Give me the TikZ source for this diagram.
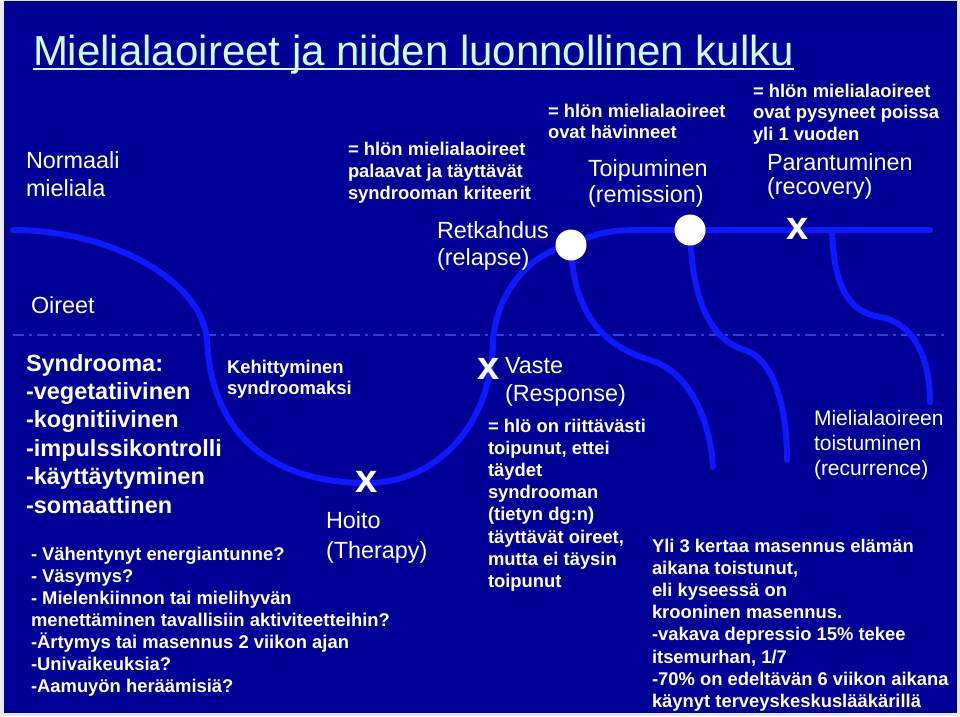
\documentclass[tikz,border=0pt]{standalone}
\usepackage{fontspec}
\setmainfont{Liberation Sans}
\definecolor{navy}{RGB}{0,0,150}
\definecolor{curveblue}{RGB}{15,25,255}
\definecolor{dashblue}{RGB}{35,70,225}
\definecolor{titlecyan}{RGB}{204,255,255}
\definecolor{outerbg}{RGB}{232,232,240}
\begin{document}
\begin{tikzpicture}[x=1pt,y=-1pt,
  txt/.style={text=white, anchor=base west, inner sep=0pt, outer sep=0pt, align=left},
  reg/.style={txt, font=\fontsize{23.4}{#1}\selectfont},
  reg/.default=28,
  bsm/.style={txt, font=\fontsize{18.4}{#1}\selectfont\bfseries},
  bsm/.default=22.2,
  bbig/.style={txt, font=\fontsize{23.5}{#1}\selectfont\bfseries},
  bbig/.default=28.4,
  xmark/.style={text=white, font=\fontsize{40}{40}\selectfont\bfseries, inner sep=0pt},
  dot/.style={circle, fill=white, minimum size=31pt, inner sep=0pt},
  curve/.style={draw=curveblue, line width=6pt, line cap=round},
  divider/.style={draw=dashblue, line width=2pt, dash pattern=on 11pt off 5pt on 3pt off 5pt}
]
\useasboundingbox (0,0) rectangle (960,716);
\fill[outerbg] (0,0) rectangle (960,716);
\fill[navy] (4,1) rectangle (957,713);

% title
\node[txt, text=titlecyan, font=\fontsize{42}{48}\selectfont] (title) at (33,65) {Mielialaoireet ja niiden luonnollinen kulku};
\draw[titlecyan, line width=2pt] ([yshift=-4pt]title.base west) -- ([yshift=-4pt]title.base east);

% divider
\coordinate (dl) at (13,335);
\coordinate (dr) at (945,335);
\draw[divider] (dl) -- (dr);

% curve key points
\coordinate (c0) at (13,230);
\coordinate (c1) at (207,340);
\coordinate (c2) at (367,483);
\coordinate (c3) at (493,340);
\coordinate (rel) at (571,245);
\coordinate (c4) at (640,230);
\coordinate (rem) at (690,230);
\coordinate (rec) at (798,229);
\coordinate (b3) at (832,230);
\coordinate (cend) at (930,230);
\coordinate (b1m) at (650,360);
\coordinate (b1e) at (713,467);
\coordinate (b2m) at (745,350);
\coordinate (b2e) at (787,460);
\coordinate (b3m) at (880,317);
\coordinate (b3e) at (930,402);

\draw[curve] (c0) .. controls (110,230) and (202,280) .. (c1)
  .. controls (212,450) and (290,483) .. (c2)
  .. controls (440,483) and (493,420) .. (c3)
  .. controls (497,290) and (532,252) .. (rel)
  .. controls (595,233) and (610,230) .. (c4) -- (cend);
\draw[curve] (rel) .. controls (573,310) and (600,345) .. (b1m)
  .. controls (690,372) and (710,420) .. (b1e);
\draw[curve] (rem) .. controls (692,300) and (710,340) .. (b2m)
  .. controls (775,360) and (787,410) .. (b2e);
\draw[curve] (b3) .. controls (834,290) and (850,312) .. (b3m)
  .. controls (915,323) and (930,360) .. (b3e);

\node[dot] (relc) at (rel) {};
\node[dot] (remc) at (rem) {};
\node[xmark] (recx) at (rec) {x};
\node[xmark] (hoitox) at (367,482) {x};
\node[xmark] (vastex) at (489,369) {x};

% texts (anchor = baseline of last line)
\node[reg=28.4] (normal) at (26,196.4) {Normaali\\mieliala};
\node[bsm=22] (relcrit) at (348,199) {= hlön mielialaoireet\\palaavat ja täyttävät\\syndrooman kriteerit};
\node[reg=27] (relapse) at (437,265) {Retkahdus\\(relapse)};
\node[bsm=21.5] (remdef) at (548,138.5) {= hlön mielialaoireet\\ovat hävinneet};
\node[reg=26] (remission) at (588,202) {Toipuminen\\(remission)};
\node[bsm=21.5] (recdef) at (753,140) {= hlön mielialaoireet\\ovat pysyneet poissa\\yli 1 vuoden};
\node[reg=24.5] (recovery) at (767,194.5) {Parantuminen\\(recovery)};
\node[reg] (oireet) at (31,313) {Oireet};
\node[bbig=28.4] (syndrome) at (26,513) {Syndrooma:\\-vegetatiivinen\\-kognitiivinen\\-impulssikontrolli\\-käyttäytyminen\\-somaattinen};
\node[bsm=21.3] (kehitt) at (227,394.3) {Kehittyminen\\syndroomaksi};
\node[reg=30] (hoito) at (326,558) {Hoito\\(Therapy)};
\node[bsm=22] (questions) at (31,692) {- Vähentynyt energiantunne?\\- Väsymys?\\- Mielenkiinnon tai mielihyvän\\menettäminen tavallisiin aktiviteetteihin?\\-Ärtymys tai masennus 2 viikon ajan\\-Univaikeuksia?\\-Aamuyön heräämisiä?};
\node[reg=28] (vaste) at (505,401) {Vaste\\(Response)};
\node[bsm=22.2] (vastedef) at (488,587.4) {= hlö on riittävästi\\toipunut, ettei\\täydet\\syndrooman\\(tietyn dg:n)\\täyttävät oireet,\\mutta ei täysin\\toipunut};
\node[txt, font=\fontsize{21}{25}\selectfont] (recur) at (814,475) {Mielialaoireen\\toistuminen\\(recurrence)};
\node[bsm=22.2] (yli) at (652,707.4) {Yli 3 kertaa masennus elämän\\aikana toistunut,\\eli kyseessä on\\krooninen masennus.\\-vakava depressio 15\% tekee\\itsemurhan, 1/7\\-70\% on edeltävän 6 viikon aikana\\käynyt terveyskeskuslääkärillä};
\end{tikzpicture}
\end{document}
